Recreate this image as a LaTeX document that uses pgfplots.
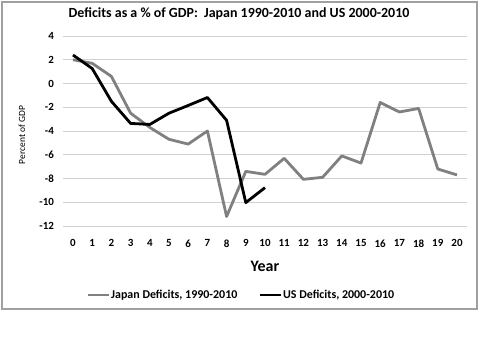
\documentclass[border=0pt]{standalone}
\usepackage{pgfplots}
\pgfplotsset{compat=1.18}
\usepackage{fontspec}
\setmainfont{Carlito}
\definecolor{jpgray}{RGB}{128,128,128}
\definecolor{gridgray}{RGB}{210,210,210}
\definecolor{framegray}{RGB}{160,160,160}
\begin{document}
\begin{tikzpicture}
\useasboundingbox (0bp,0bp) rectangle (481bp,359bp);
\fill[white] (0bp,0bp) rectangle (481bp,359bp);
\draw[framegray, line width=1.5bp] (2bp,50bp) rectangle (477bp,357bp);
\begin{axis}[
  at={(63.4bp,133bp)}, anchor=south west,
  scale only axis,
  width=403.2bp, height=190bp,
  xmin=-0.5, xmax=20.5,
  ymin=-12, ymax=4,
  xtick={0,...,20},
  ytick={-12,-10,...,4},
  ymajorgrids,
  grid style={gridgray, line width=0.8bp},
  axis line style={draw=none},
  major tick length=0pt,
  /pgf/number format/assume math mode=true,
  ticklabel style={font=\bfseries\fontsize{11}{12}\selectfont},
  yticklabel style={xshift=-6bp},
  xticklabel style={yshift=-10bp},
  title={Deficits as a \% of GDP:\ \ Japan 1990-2010 and US 2000-2010},
  title style={at={(0.4355,1.11)}, anchor=center, yshift=-5bp, font=\bfseries\fontsize{14}{16}\selectfont},
  xlabel={Year},
  xlabel style={at={(0.5,-0.21)}, anchor=center, font=\bfseries\fontsize{16}{18}\selectfont},
  ylabel={Percent of GDP},
  ylabel style={at={(-0.1027,0.479)}, anchor=center, font=\fontsize{9.5}{11}\selectfont},
  legend columns=2,
  legend style={at={(0.44,-0.363)}, anchor=center, draw=none, fill=none,
    font=\bfseries\fontsize{12}{14}\selectfont,
    nodes={inner xsep=1bp},
    /tikz/every even column/.append style={column sep=20bp}},
  legend image code/.code={\draw[#1] (0bp,0bp) -- (21bp,0bp);},
  clip=false,
]
\addplot[jpgray, line width=2.8bp, line join=round] coordinates {
(0,2.0) (1,1.7) (2,0.6) (3,-2.5) (4,-3.7) (5,-4.7) (6,-5.1) (7,-4.0) (8,-11.2)
(9,-7.4) (10,-7.65) (11,-6.3) (12,-8.07) (13,-7.9) (14,-6.1) (15,-6.7)
(16,-1.6) (17,-2.4) (18,-2.1) (19,-7.2) (20,-7.7)};
\addlegendentry{Japan Deficits, 1990-2010}
\addplot[black, line width=2.8bp, line join=round] coordinates {
(0,2.4) (1,1.26) (2,-1.5) (3,-3.36) (4,-3.45) (5,-2.5) (6,-1.85) (7,-1.18)
(8,-3.1) (9,-10.03) (10,-8.77)};
\addlegendentry{US Deficits, 2000-2010}
\end{axis}
\end{tikzpicture}
\end{document}
